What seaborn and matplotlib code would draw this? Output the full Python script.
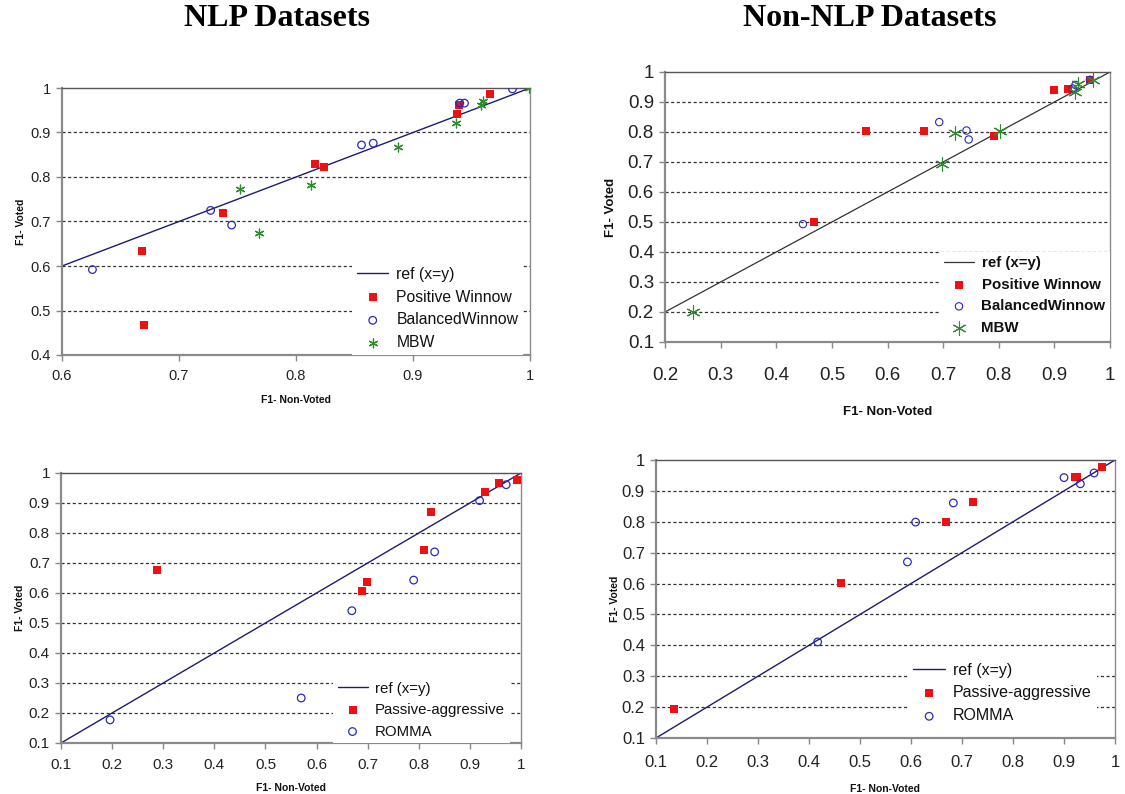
import matplotlib
matplotlib.use("Agg")
import matplotlib.pyplot as plt
import seaborn as sns
from matplotlib.ticker import FuncFormatter, MultipleLocator

# ---------------- data ----------------
# Panel A: NLP datasets, Winnow family
nlp_pw_x = [0.668, 0.670, 0.738, 0.816, 0.824, 0.938, 0.939, 0.966]
nlp_pw_y = [0.633, 0.468, 0.718, 0.829, 0.823, 0.942, 0.962, 0.986]
nlp_bw_x = [0.626, 0.727, 0.745, 0.856, 0.866, 0.940, 0.944, 0.985]
nlp_bw_y = [0.592, 0.725, 0.692, 0.872, 0.876, 0.966, 0.966, 0.998]
nlp_mbw_x = [0.752, 0.768, 0.813, 0.887, 0.937, 0.958, 0.960, 0.999]
nlp_mbw_y = [0.773, 0.675, 0.782, 0.868, 0.921, 0.961, 0.970, 1.000]

# Panel B: Non-NLP datasets, Winnow family
non_pw_x = [0.468, 0.561, 0.665, 0.792, 0.900, 0.925, 0.964]
non_pw_y = [0.500, 0.804, 0.804, 0.785, 0.940, 0.945, 0.972]
non_bw_x = [0.448, 0.693, 0.742, 0.746, 0.933, 0.938, 0.964]
non_bw_y = [0.493, 0.833, 0.805, 0.775, 0.945, 0.957, 0.974]
non_mbw_x = [0.250, 0.698, 0.721, 0.803, 0.937, 0.943, 0.969]
non_mbw_y = [0.200, 0.695, 0.797, 0.804, 0.933, 0.961, 0.972]

# Panel C: NLP datasets, PA / ROMMA
nlp_pa_x = [0.288, 0.688, 0.698, 0.810, 0.824, 0.930, 0.956, 0.993]
nlp_pa_y = [0.678, 0.608, 0.637, 0.742, 0.871, 0.936, 0.967, 0.978]
nlp_ro_x = [0.196, 0.570, 0.669, 0.790, 0.831, 0.919, 0.971]
nlp_ro_y = [0.177, 0.250, 0.541, 0.643, 0.737, 0.908, 0.961]

# Panel D: Non-NLP datasets, PA / ROMMA
non_pa_x = [0.135, 0.462, 0.669, 0.721, 0.921, 0.926, 0.975]
non_pa_y = [0.193, 0.602, 0.799, 0.863, 0.944, 0.944, 0.976]
non_ro_x = [0.417, 0.593, 0.609, 0.683, 0.900, 0.932, 0.959]
non_ro_y = [0.411, 0.670, 0.799, 0.861, 0.943, 0.923, 0.958]

ref_a = [0.6, 1.0]
ref_b = [0.2, 1.0]
ref_c = [0.1, 1.0]
ref_d = [0.1, 1.0]

titles = ["NLP Datasets", "Non-NLP Datasets"]
xlabel = "F1- Non-Voted"
ylabel = "F1- Voted"

# ---------------- styling ----------------
sns.set_style("white")
plt.rcParams["font.family"] = ["Liberation Sans", "DejaVu Sans"]

W, H = 1125, 794
fig = plt.figure(figsize=(W / 100, H / 100), dpi=100)


def px_axes(l, r, t, b):
    return fig.add_axes([l / W, 1 - b / H, (r - l) / W, (b - t) / H])


RED = "#ee1111"
BLUE = "#2a2ab8"
GREEN = "#2e8b2e"


def style_axes(ax, xlim, ylim, tick_fs, lab_fs, ylab_pad, xlab_pad, tick_pad):
    ax.set_xlim(*xlim)
    ax.set_ylim(*ylim)
    ax.xaxis.set_major_locator(MultipleLocator(0.1))
    ax.yaxis.set_major_locator(MultipleLocator(0.1))
    fmt = FuncFormatter(lambda v, p: "%g" % round(v, 2))
    ax.xaxis.set_major_formatter(fmt)
    ax.yaxis.set_major_formatter(fmt)
    ax.tick_params(axis="both", which="major", direction="out", length=4,
                   width=1, color="#888888", labelsize=tick_fs,
                   labelcolor="#222222", bottom=True, left=True)
    ax.tick_params(axis="x", pad=tick_pad)
    ax.tick_params(axis="y", pad=4)
    for yv in ax.get_yticks():
        if ylim[0] < yv < ylim[1] - 1e-6:
            ax.axhline(yv, color="#333333", lw=0.9, ls=(0, (2.5, 2)), zorder=0)
    for side in ["left", "bottom"]:
        ax.spines[side].set_color("#8a8a8a")
        ax.spines[side].set_linewidth(1.6)
    ax.spines["top"].set_color("#555555")
    ax.spines["top"].set_linewidth(1.0)
    ax.spines["right"].set_color("#8a8a8a")
    ax.spines["right"].set_linewidth(1.0)
    ax.set_xlabel(xlabel, fontsize=lab_fs, fontweight="bold", labelpad=xlab_pad,
                  color="#111111")
    ax.set_ylabel(ylabel, fontsize=lab_fs, fontweight="bold", labelpad=ylab_pad,
                  color="#111111")


def add_legend(ax, fs, bold, anchor):
    h, l = ax.get_legend_handles_labels()
    leg = ax.legend(h, l, loc="lower right", bbox_to_anchor=anchor,
                    frameon=True, facecolor="white", edgecolor="none",
                    framealpha=1, fancybox=False, fontsize=fs,
                    handlelength=2.0, handletextpad=0.5, labelspacing=0.5,
                    borderpad=0.3, borderaxespad=0.0)
    for t in leg.get_texts():
        t.set_color("#111111")
        if bold:
            t.set_fontweight("bold")
    leg.set_zorder(5)


# ---------------- Panel A ----------------
ax = px_axes(62, 530, 88, 355)
sns.lineplot(x=ref_a, y=ref_a, ax=ax, color="#1c1c70", lw=1.0, label="ref (x=y)")
sns.scatterplot(x=nlp_pw_x, y=nlp_pw_y, ax=ax, marker="s", s=26, color=RED,
                edgecolor=RED, linewidth=0, label="Positive Winnow", zorder=3)
sns.scatterplot(x=nlp_bw_x, y=nlp_bw_y, ax=ax, marker="o", s=30,
                facecolors="none", edgecolor=BLUE, linewidth=0.9,
                label="BalancedWinnow", zorder=3)
sns.scatterplot(x=nlp_mbw_x, y=nlp_mbw_y, ax=ax, marker=(6, 2, 0), s=40,
                color=GREEN, edgecolor=GREEN, linewidth=0.9, label="MBW", zorder=3)
style_axes(ax, (0.6, 1.0), (0.4, 1.0), 10.5, 7.5, 3, 9, 6)
add_legend(ax, 11.3, False, (0.985, 0.0))

# ---------------- Panel B ----------------
ax = px_axes(665, 1110, 72, 342)
sns.lineplot(x=ref_b, y=ref_b, ax=ax, color="#333333", lw=0.9, label="ref (x=y)")
sns.scatterplot(x=non_pw_x, y=non_pw_y, ax=ax, marker="s", s=26, color=RED,
                edgecolor=RED, linewidth=0, label="Positive Winnow", zorder=3)
sns.scatterplot(x=non_bw_x, y=non_bw_y, ax=ax, marker="o", s=28,
                facecolors="none", edgecolor=BLUE, linewidth=0.8,
                label="BalancedWinnow", zorder=3)
sns.scatterplot(x=non_mbw_x, y=non_mbw_y, ax=ax, marker=(6, 2, 0), s=90,
                color=GREEN, edgecolor=GREEN, linewidth=0.8, label="MBW", zorder=3)
style_axes(ax, (0.2, 1.0), (0.1, 1.0), 13.5, 9.5, 8, 16, 14)
add_legend(ax, 10.8, True, (1.0, 0.01))

# ---------------- Panel C ----------------
ax = px_axes(61, 521, 473, 743)
sns.lineplot(x=ref_c, y=ref_c, ax=ax, color="#1c1c70", lw=1.0, label="ref (x=y)")
sns.scatterplot(x=nlp_pa_x, y=nlp_pa_y, ax=ax, marker="s", s=26, color=RED,
                edgecolor=RED, linewidth=0, label="Passive-aggressive", zorder=3)
sns.scatterplot(x=nlp_ro_x, y=nlp_ro_y, ax=ax, marker="o", s=30,
                facecolors="none", edgecolor=BLUE, linewidth=0.9,
                label="ROMMA", zorder=3)
style_axes(ax, (0.1, 1.0), (0.1, 1.0), 11, 7.5, 3, 8, 7)
add_legend(ax, 10.8, False, (0.975, 0.0))

# ---------------- Panel D ----------------
ax = px_axes(656, 1115, 460, 738)
sns.lineplot(x=ref_d, y=ref_d, ax=ax, color="#1c1c70", lw=1.0, label="ref (x=y)")
sns.scatterplot(x=non_pa_x, y=non_pa_y, ax=ax, marker="s", s=26, color=RED,
                edgecolor=RED, linewidth=0, label="Passive-aggressive", zorder=3)
sns.scatterplot(x=non_ro_x, y=non_ro_y, ax=ax, marker="o", s=30,
                facecolors="none", edgecolor=BLUE, linewidth=0.9,
                label="ROMMA", zorder=3)
style_axes(ax, (0.1, 1.0), (0.1, 1.0), 12, 7.5, 1, 10, 8)
add_legend(ax, 11.5, False, (0.96, 0.035))

# ---------------- Titles ----------------
for cx, txt in zip([277, 870], titles):
    fig.text(cx / W, 1 - 18 / H, txt, ha="center", va="center", color="black",
             fontsize=23, fontweight="bold",
             family=["Liberation Serif", "DejaVu Serif"])

fig.savefig("out.png", dpi=100, facecolor="white")
